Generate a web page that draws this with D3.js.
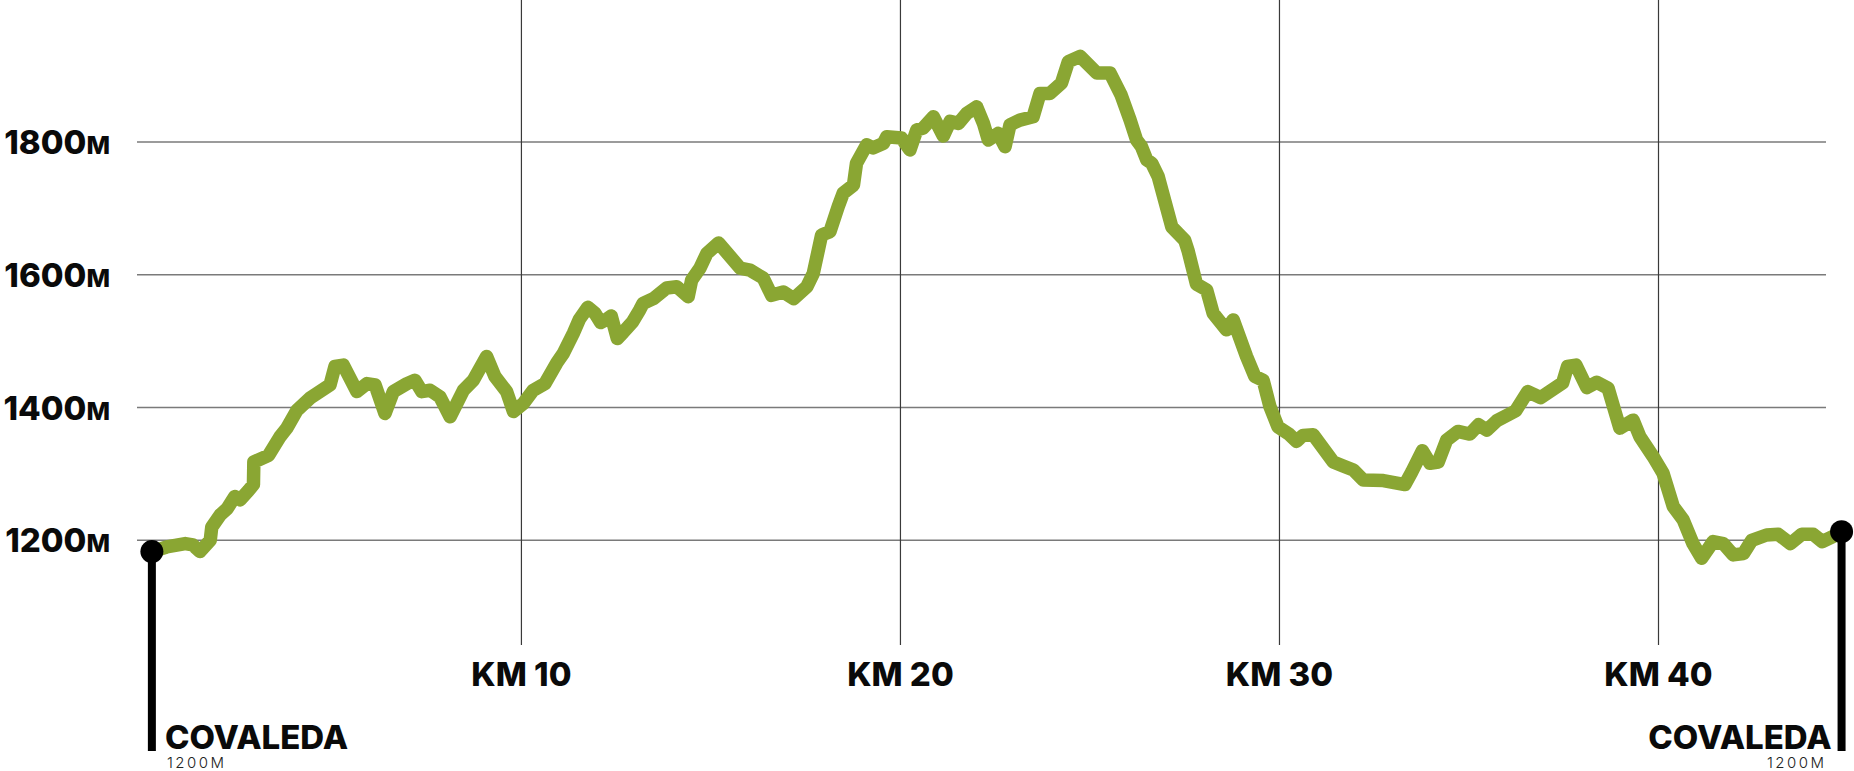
<!DOCTYPE html>
<html>
<head>
  <meta charset="utf-8">
  <script src="https://d3js.org/d3.v7.min.js"></script>
  <style>
    body { margin: 0; background: #fff; }
    svg { display: block; }
    .big { font-family: Inter, "Noto Sans", sans-serif; font-weight: 800; fill: #0a0a0a; }
    .small { font-family: Inter, "Noto Sans", sans-serif; font-weight: 300; fill: #222; }
  </style>
</head>
<body>
<div id="chart"></div>
<script>
  // route profile: distance (km) and elevation (m)
  var km = [0.25, 0.64, 1.13, 1.33, 1.52, 1.79, 1.83, 2.05, 2.24, 2.44, 2.58, 2.8, 2.93, 2.94,
    3.33, 3.63, 3.81, 4.08, 4.42, 4.95, 5.08, 5.3, 5.66, 5.92, 6.14, 6.4, 6.62, 6.98, 7.19,
    7.37, 7.59, 7.85, 8.12, 8.47, 8.73, 9.08, 9.3, 9.61, 9.79, 10.05, 10.31, 10.62, 10.93,
    11.11, 11.37, 11.53, 11.75, 11.94, 12.09, 12.25, 12.37, 12.53, 12.68, 12.93, 13.12, 13.21,
    13.48, 13.83, 14.1, 14.4, 14.49, 14.71, 14.89, 15.2, 15.77, 16.03, 16.38, 16.6, 16.91,
    17.18, 17.53, 17.7, 17.92, 18.14, 18.36, 18.49, 18.76, 18.84, 19.11, 19.28, 19.55, 19.64,
    20.03, 20.25, 20.43, 20.6, 20.87, 21.13, 21.31, 21.53, 21.75, 22.01, 22.19, 22.32, 22.58,
    22.76, 22.89, 23.15, 23.5, 23.68, 23.94, 24.25, 24.43, 24.74, 25.18, 25.53, 25.82, 26.06,
    26.23, 26.36, 26.5, 26.63, 26.8, 27.16, 27.5, 27.59, 27.81, 28.08, 28.25, 28.6, 28.78,
    29.13, 29.35, 29.57, 29.75, 29.96, 30.25, 30.45, 30.62, 30.89, 31.42, 31.68, 31.95, 32.21,
    32.74, 33.31, 33.49, 33.77, 33.97, 34.19, 34.41, 34.71, 35.02, 35.25, 35.47, 35.73, 36.23,
    36.55, 36.89, 37.47, 37.6, 37.82, 38.11, 38.37, 38.67, 38.98, 39.33, 39.51, 39.86, 40.12,
    40.39, 40.65, 40.91, 41.14, 41.44, 41.71, 41.97, 42.24, 42.46, 42.85, 43.16, 43.48, 43.78,
    44.08, 44.32, 44.61, 44.83];
  var elevation = [1183, 1190, 1195, 1193, 1183, 1200, 1220, 1238, 1248, 1266, 1261, 1275, 1284, 1318,
    1328, 1356, 1369, 1396, 1414, 1434, 1462, 1464, 1424, 1436, 1434, 1391, 1424, 1436, 1441,
    1424, 1426, 1416, 1386, 1426, 1441, 1477, 1447, 1424, 1394, 1406, 1426, 1436, 1467,
    1482, 1512, 1533, 1551, 1542, 1528, 1533, 1538, 1504, 1513, 1529, 1547, 1557,
    1564, 1580, 1582, 1567, 1592, 1610, 1632, 1648, 1610, 1607, 1595, 1569, 1574,
    1564, 1582, 1602, 1660, 1665, 1703, 1723, 1735, 1768, 1796, 1791, 1798, 1808,
    1806, 1788, 1818, 1821, 1838, 1809, 1831, 1828, 1843, 1853, 1828, 1803, 1813,
    1793, 1826, 1833, 1838, 1873, 1873, 1889, 1921, 1929, 1904, 1904, 1871, 1833,
    1803, 1793, 1773, 1768, 1748, 1672, 1652, 1636, 1586, 1577, 1542, 1517, 1532,
    1477, 1447, 1441, 1401, 1371, 1360, 1349, 1358, 1359, 1318, 1312, 1306, 1291,
    1290, 1284, 1303, 1335, 1316, 1318, 1351, 1364, 1360, 1374, 1366, 1380, 1395,
    1424, 1415, 1437, 1462, 1464, 1430, 1438, 1429, 1369, 1381, 1356, 1326, 1301,
    1251, 1231, 1195, 1173, 1198, 1195, 1178, 1180, 1200, 1208, 1209, 1195, 1209,
    1209, 1198, 1206, 1213];

  var elevTicks = [1200, 1400, 1600, 1800];
  var kmTicks = [10, 20, 30, 40];
  var placeStart = "COVALEDA", placeEnd = "COVALEDA";
  var placeStartElev = "1200M", placeEndElev = "1200M";

  var width = 1854, height = 771;
  var svg = d3.select("#chart").append("svg")
    .attr("width", width)
    .attr("height", height);

  var x = d3.scaleLinear().domain([0, 40]).range([142.4, 1658.5]);
  var y = d3.scaleLinear().domain([1200, 1800]).range([540.3, 142]);

  var gridLeft = 137, gridRight = 1826, vTop = 0, vBottom = 645, barBottom = 751;

  // horizontal grid
  svg.append("g").selectAll("line")
    .data(elevTicks)
    .enter().append("line")
    .attr("x1", gridLeft).attr("x2", gridRight)
    .attr("y1", function (d) {return y(d);})
    .attr("y2", function (d) {return y(d);})
    .attr("stroke", "#7a7a7a")
    .attr("stroke-width", 1.6);

  // vertical km lines
  svg.append("g").selectAll("line")
    .data(kmTicks)
    .enter().append("line")
    .attr("x1", function (d) {return x(d);})
    .attr("x2", function (d) {return x(d);})
    .attr("y1", vTop).attr("y2", vBottom)
    .attr("stroke", "#3a3a3a")
    .attr("stroke-width", 1.2);

  // elevation labels
  var yl = svg.append("g").selectAll("text")
    .data(elevTicks)
    .enter().append("text")
    .attr("class", "big")
    .attr("x", 110)
    .attr("y", function (d) {return y(d) + 12;})
    .attr("text-anchor", "end")
    .style("font-size", "33px");
  yl.append("tspan").text(function (d) {return d;});
  yl.append("tspan").style("font-size", "25px").text("M");

  // km labels
  svg.append("g").selectAll("text")
    .data(kmTicks)
    .enter().append("text")
    .attr("class", "big")
    .attr("x", function (d) {return x(d);})
    .attr("y", 686)
    .attr("text-anchor", "middle")
    .style("font-size", "33px")
    .text(function (d) {return "KM " + d;});

  // start / end posts
  var first = 0, last = km.length - 1;
  var posts = [
    {i: first, name: placeStart, elev: placeStartElev, anchor: "start", dx: 13},
    {i: last, name: placeEnd, elev: placeEndElev, anchor: "end", dx: -10}
  ];

  // profile line
  var line = d3.line()
    .x(function (d, i) {return x(km[i]);})
    .y(function (d) {return y(d);});

  svg.append("path")
    .datum(elevation)
    .attr("d", line)
    .attr("fill", "none")
    .attr("stroke", "#8aa633")
    .attr("stroke-width", 13.5)
    .attr("stroke-linejoin", "round")
    .attr("stroke-linecap", "round");

  svg.append("g").selectAll("line")
    .data(posts)
    .enter().append("line")
    .attr("x1", function (d) {return x(km[d.i]);})
    .attr("x2", function (d) {return x(km[d.i]);})
    .attr("y1", function (d) {return y(elevation[d.i]);})
    .attr("y2", barBottom)
    .attr("stroke", "#000")
    .attr("stroke-width", 8);

  svg.append("g").selectAll("circle")
    .data(posts)
    .enter().append("circle")
    .attr("cx", function (d) {return x(km[d.i]);})
    .attr("cy", function (d) {return y(elevation[d.i]);})
    .attr("r", 11.5)
    .attr("fill", "#000");

  svg.append("g").selectAll("text")
    .data(posts)
    .enter().append("text")
    .attr("class", "big")
    .attr("x", function (d) {return x(km[d.i]) + d.dx;})
    .attr("y", 749)
    .attr("text-anchor", function (d) {return d.anchor;})
    .style("font-size", "33px")
    .text(function (d) {return d.name;});

  svg.append("g").selectAll("text")
    .data(posts)
    .enter().append("text")
    .attr("class", "small")
    .attr("x", function (d) {return x(km[d.i]) + d.dx + (d.anchor === "start" ? 2 : -5);})
    .attr("y", 768)
    .attr("text-anchor", function (d) {return d.anchor;})
    .style("font-size", "15px")
    .style("letter-spacing", "2.5px")
    .text(function (d) {return d.elev;});
</script>
</body>
</html>
